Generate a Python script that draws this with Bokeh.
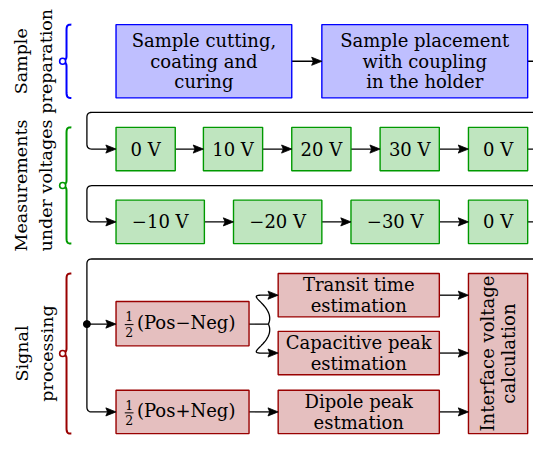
import numpy as np
from bokeh.plotting import figure
from bokeh.models import Range1d
from bokeh.core.properties import value
from bokeh.embed import file_html
from bokeh.resources import INLINE

FONT = "DejaVu Serif"
REF_W = 549.0
REF_H = 452.0


def Y(v):
    return REF_H - np.asarray(v, dtype=float)


# ---------------- stages (left labels + braces) ----------------
stage_lines = [["Sample", "preparation"], ["Measurements", "under voltages"], ["Signal", "processing"]]
stage_text_x = [[21, 47], [21, 47], [22, 48]]
stage_top = [25, 131.5, 283]
stage_bottom = [101, 252, 449]
stage_edge = ["#0000ff", "#009900", "#990000"]
stage_fill = ["#bfbfff", "#bfe5bf", "#e5bfbf"]

# ---------------- boxes ----------------
box_text = ["Sample cutting,\ncoating and\ncuring", "Sample placement\nwith coupling\nin the holder",
            "0 V", "10 V", "20 V", "30 V", "0 V",
            "\u221210 V", "\u221220 V", "\u221230 V", "0 V",
            "", "",
            "Transit time\nestimation", "Capacitive peak\nestimation", "Dipole peak\nestmation",
            "Interface voltage\ncalculation"]
box_left = [119, 331, 119, 209, 300, 391, 482, 119, 240, 361, 482, 119, 119, 286, 286, 286, 482]
box_right = [300, 543, 180, 270, 361, 452, 543, 210, 331, 452, 543, 256, 256, 452, 452, 452, 543]
box_top = [25, 25] + [131.5] * 5 + [207] * 4 + [312, 404, 283, 343, 404, 283]
box_bottom = [101, 101] + [176.5] * 5 + [252] * 4 + [358, 449, 328, 388, 449, 449]
box_stage = [0, 0] + [1] * 9 + [2] * 6
box_angle = [0] * 16 + [90]

# half-sum / half-difference boxes
half_box = [11, 12]
half_sign = ["\u2212", "+"]

# ---------------- connectors ----------------
arrow_x0 = [300, 180, 270, 361, 452, 210, 331, 452, 89, 256, 452, 452, 452]
arrow_x1 = [331, 209, 300, 391, 482, 240, 361, 482, 119, 286, 482, 482, 482]
arrow_y = [63, 154, 154, 154, 154, 229.5, 229.5, 229.5, 335.5, 426.5, 305.5, 365.5, 426.5]
exit_x0 = [543, 543, 543]
exit_x1 = [549, 549, 549]
exit_y = [63, 154, 229.5]
return_y = [116, 192, 268]
return_target_y = [154, 229.5, 426.5]
return_x = 89
split_y = [305.5, 365.5]

p = figure(width=533, height=436, x_range=Range1d(0, REF_W), y_range=Range1d(0, REF_H),
           output_backend="svg", toolbar_location=None, min_border=0)
p.axis.visible = False
p.grid.visible = False
p.outline_line_color = None
p.background_fill_color = "white"
p.border_fill_color = "white"


def rounded(pts, r=5.0, n=8):
    pts = [np.array(q, dtype=float) for q in pts]
    out = [pts[0]]
    for i in range(1, len(pts) - 1):
        p0, p1, p2 = pts[i - 1], pts[i], pts[i + 1]
        d1 = (p1 - p0) / np.linalg.norm(p1 - p0)
        d2 = (p2 - p1) / np.linalg.norm(p2 - p1)
        a = p1 - d1 * r
        b = p1 + d2 * r
        for t in np.linspace(0, 1, n):
            out.append((1 - t) ** 2 * a + 2 * (1 - t) * t * p1 + t ** 2 * b)
    out.append(pts[-1])
    arr = np.array(out)
    return arr[:, 0], arr[:, 1]


def cubic(P0, P1, P2, P3, n=30):
    t = np.linspace(0, 1, n)[:, None]
    P0, P1, P2, P3 = (np.array(q, dtype=float) for q in (P0, P1, P2, P3))
    c = (1 - t) ** 3 * P0 + 3 * (1 - t) ** 2 * t * P1 + 3 * (1 - t) * t ** 2 * P2 + t ** 3 * P3
    return c[:, 0], c[:, 1]


heads_x, heads_y = [], []


def head(xe, ye, L=10.5, w=4.2, notch=1.8):
    heads_x.append([xe, xe - L, xe - L + notch, xe - L])
    heads_y.append(list(Y([ye, ye - w, ye, ye + w])))


line_xs, line_ys = [], []

# straight arrows
for x0, x1, yy in zip(arrow_x0, arrow_x1, arrow_y):
    line_xs.append([x0, x1 - 6])
    line_ys.append(list(Y([yy, yy])))
    head(x1, yy)

# lines leaving to the right edge
for x0, x1, yy in zip(exit_x0, exit_x1, exit_y):
    line_xs.append([x0, x1])
    line_ys.append(list(Y([yy, yy])))

# return paths
for ry, ty in zip(return_y, return_target_y):
    xs, ys = rounded([(549, ry), (return_x, ry), (return_x, ty), (119 - 6, ty)])
    line_xs.append(list(xs))
    line_ys.append(list(Y(ys)))
    head(119, ty)

# wavy split from the half-difference box
src_y = arrow_y[8]
line_xs.append([256, 276])
line_ys.append(list(Y([src_y, src_y])))
for sy in split_y:
    sgn = 1 if sy > src_y else -1
    xs, ys = cubic((276, src_y), (284, src_y + sgn * 18), (252, sy), (268, sy))
    xs = list(xs) + [286 - 6]
    ys = list(ys) + [sy]
    line_xs.append(xs)
    line_ys.append(list(Y(ys)))
    head(286, sy)

p.multi_line(line_xs, line_ys, line_color="black", line_width=1.3)

# braces
for k in range(3):
    y0, y1 = stage_top[k], stage_bottom[k]
    ym = (y0 + y1) / 2
    xa, xb, xt = 73.0, 68.0, 63.5
    xs1, ys1 = cubic((xa, y0), (xb + 1, y0), (xb, y0 + 1), (xb, y0 + 6), 10)
    xs2, ys2 = cubic((xb, ym - 5), (xb, ym - 1), (xt + 1, ym), (xt, ym), 10)
    xs3, ys3 = cubic((xt, ym), (xt + 1, ym), (xb, ym + 1), (xb, ym + 5), 10)
    xs4, ys4 = cubic((xb, y1 - 6), (xb, y1 - 1), (xb + 1, y1), (xa, y1), 10)
    bx = np.concatenate([xs1, xs2, xs3, xs4])
    by = np.concatenate([ys1, ys2, ys3, ys4])
    p.line(bx, Y(by), line_color=stage_edge[k], line_width=2)
    p.scatter([xt + 0.5], Y([ym]), size=6, marker="circle", fill_color="white",
              line_color=stage_edge[k], line_width=1.6)
    for line_txt, tx in zip(stage_lines[k], stage_text_x[k]):
        p.text([tx], Y([ym]), text=[line_txt], angle=np.pi / 2, text_font=value(FONT),
               text_font_size="17.5px", text_align="center", text_baseline="middle",
               text_color="black")

# boxes
p.quad(left=box_left, right=box_right, top=list(Y(box_top)), bottom=list(Y(box_bottom)),
       fill_color=[stage_fill[s] for s in box_stage], line_color=[stage_edge[s] for s in box_stage],
       line_width=1.4)

cx = [(a + b) / 2 for a, b in zip(box_left, box_right)]
cy = [(a + b) / 2 for a, b in zip(box_top, box_bottom)]
p.text(cx, list(Y(cy)), text=box_text, angle=[np.deg2rad(a) for a in box_angle],
       text_font=value(FONT), text_font_size="18px", text_align="center",
       text_baseline="middle", text_line_height=0.98, text_color="black")

# fractions 1/2 (Pos -/+ Neg)
for bi, sg in zip(half_box, half_sign):
    yc = cy[bi]
    fx = box_left[bi] + 13.5
    p.text([fx], list(Y([yc - 7.5])), text=["1"], text_font=value(FONT), text_font_size="12.5px",
           text_align="center", text_baseline="middle")
    p.text([fx], list(Y([yc + 8.5])), text=["2"], text_font=value(FONT), text_font_size="12.5px",
           text_align="center", text_baseline="middle")
    p.line([fx - 4.5, fx + 4.5], list(Y([yc + 1, yc + 1])), line_color="black", line_width=1)
    p.text([box_left[bi] + 21.5], list(Y([yc - 1])), text=["(Pos" + sg + "Neg)"],
           text_font=value(FONT), text_font_size="18px", text_align="left",
           text_baseline="middle")

# junction dot
p.scatter([return_x], list(Y([src_y])), size=7, marker="circle", fill_color="black", line_color="black")

# arrow heads
p.patches(heads_x, heads_y, fill_color="black", line_color="black", line_width=0.8)

open("out.html", "w").write(file_html(p, INLINE))
